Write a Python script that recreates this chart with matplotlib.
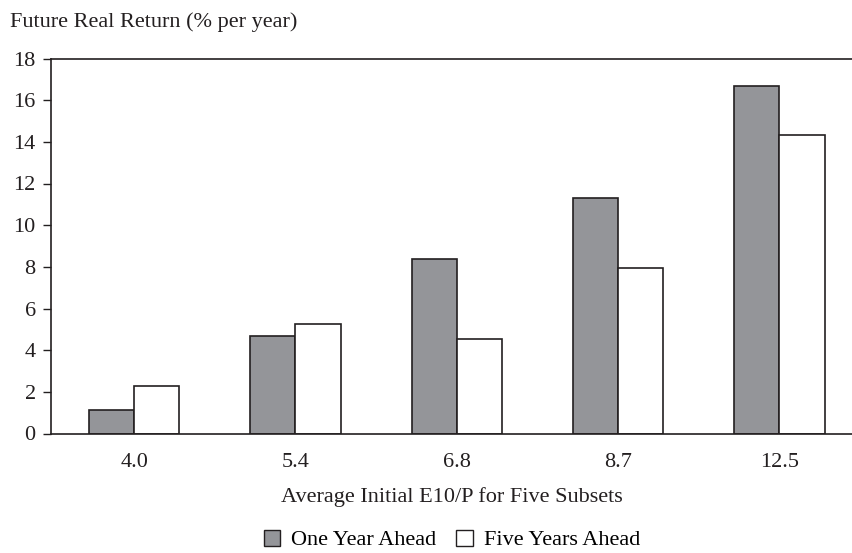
import numpy as np
import matplotlib
matplotlib.use("Agg")
import matplotlib.pyplot as plt
from matplotlib.patches import Patch

# values
subsets = ['4.0', '5.4', '6.8', '8.7', '12.5']
one_year = [1.15, 4.68, 8.38, 11.3, 16.68]
five_years = [2.28, 5.28, 4.54, 7.95, 14.32]
yticks = [0, 2, 4, 6, 8, 10, 12, 14, 16, 18]

gray = '#949599'
edge = '#231f20'

plt.rcParams['font.family'] = ['Liberation Serif', 'DejaVu Serif']
plt.rcParams['font.size'] = 16

fig = plt.figure(figsize=(8.52, 5.53), dpi=100)
ax = fig.add_axes([51/852, 1-433.5/553, 1-51/852, 375/553])

x = np.arange(len(subsets))
w = 0.28
ax.bar(x - w/2, one_year, w, color=gray, edgecolor=edge, linewidth=1.2)
ax.bar(x + w/2, five_years, w, color='white', edgecolor=edge, linewidth=1.2)

ax.set_xlim(-0.515, 4.45)
ax.set_ylim(0, 18)
ax.set_yticks(yticks)
ax.set_xticks(x)
ax.set_xticklabels(subsets)
ax.tick_params(axis='x', length=0, pad=14, colors=edge)
ax.tick_params(axis='y', direction='out', length=6, width=1, pad=5, colors=edge)
ax.spines['right'].set_visible(False)
for s in ['left', 'top', 'bottom']:
    ax.spines[s].set_linewidth(1.2)
    ax.spines[s].set_color(edge)

ax.set_xlabel('Average Initial E10/P for Five Subsets', labelpad=11, color=edge)
fig.text(10/852, 1-22/553, 'Future Real Return (% per year)', ha='left', va='center',
         fontsize=16, color=edge)

handles = [Patch(facecolor=gray, edgecolor=edge, label='One Year Ahead'),
           Patch(facecolor='white', edgecolor=edge, label='Five Years Ahead')]
fig.legend(handles=handles, loc='center', bbox_to_anchor=(452/852, 1-540/553), ncol=2,
           frameon=False, handlelength=0.75, handleheight=0.75, handletextpad=0.5,
           columnspacing=0.9, fontsize=16)

fig.savefig('out.png', dpi=100)
